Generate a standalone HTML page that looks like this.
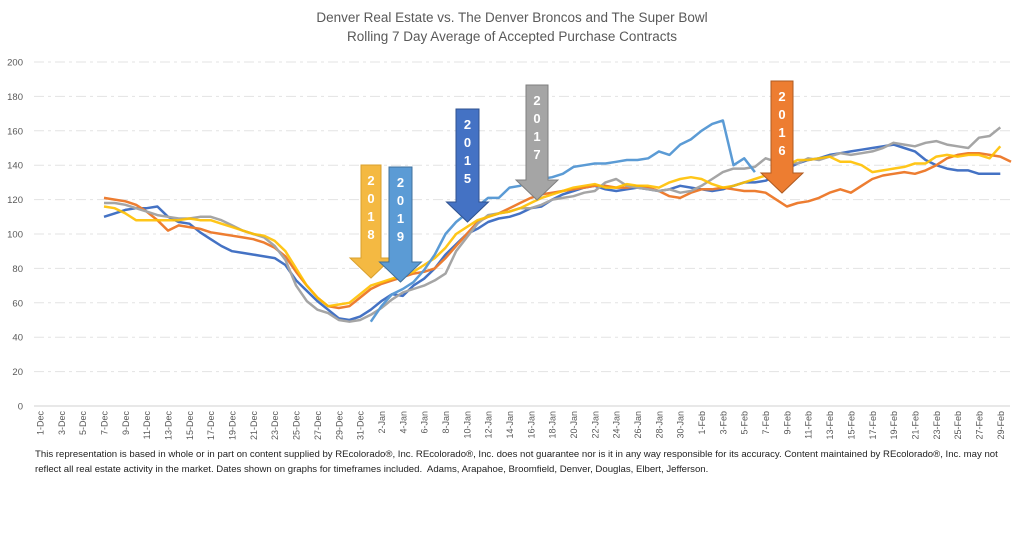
<!DOCTYPE html>
<html><head><meta charset="utf-8"><style>
html,body{margin:0;padding:0;background:#fff;width:1024px;height:534px;overflow:hidden}
svg{display:block;font-family:"Liberation Sans",sans-serif}
.foot{position:absolute;left:35px;top:447px;font:9.6px "Liberation Sans",sans-serif;color:#222;line-height:15px;width:990px}
</style></head><body>
<svg id="chart" width="1024" height="534"></svg>
<div class="foot">This representation is based in whole or in part on content supplied by REcolorado®, Inc. REcolorado®, Inc. does not guarantee nor is it in any way responsible for its accuracy. Content maintained by REcolorado®, Inc. may not<br>reflect all real estate activity in the market. Dates shown on graphs for timeframes included.&nbsp; Adams, Arapahoe, Broomfield, Denver, Douglas, Elbert, Jefferson.</div>
<script>
const yTicks=[0,20,40,60,80,100,120,140,160,180,200];
const N=null;
const pre=[N,N,N,N,N,N];
const s2015=pre.concat([110,112,114,115,115,116,110,107,106,101,97,93,90,89,88,87,86,82,73,67,61,56,51,50,52,56,61,65,64,70,74,80,88,94,100,103,107,109,110,112,115,116,120,123,125,127,128,126,125,126,127,126,125,126,128,127,126,125,126,128,130,130,131,134,138,141,143,144,146,147,148,149,150,151,152,150,148,143,140,138,137,137,135,135,135]);
const s2016=pre.concat([121,120,119,117,113,108,102,105,104,103,101,100,99,98,97,95,92,87,78,70,63,58,57,58,63,68,71,73,75,77,78,80,86,93,100,107,110,112,115,118,121,123,124,125,126,127,128,128,127,127,128,127,125,122,121,124,126,126,127,126,125,125,124,120,116,118,119,121,124,126,124,128,132,134,135,136,135,137,140,144,146,147,147,146,145,142]);
const s2017=pre.concat([118,118,117,115,113,111,110,109,109,110,110,108,105,102,100,98,93,85,70,61,56,54,50,49,50,53,57,62,66,68,70,73,77,90,98,106,111,112,113,115,115,117,120,121,122,124,125,130,132,128,127,126,125,126,124,125,128,132,136,138,138,139,144,142,142,141,144,143,145,147,146,147,148,150,153,152,151,153,154,152,151,150,156,157,162]);
const s2018=pre.concat([116,115,112,108,108,108,108,108,109,108,108,106,104,102,100,99,96,90,80,70,63,58,59,60,65,70,72,74,76,78,82,86,92,100,104,108,110,112,113,115,118,121,123,125,127,128,129,127,127,129,128,128,127,130,132,133,132,129,127,128,130,132,134,136,140,143,143,144,145,142,142,140,136,137,138,139,141,141,145,146,145,146,146,144,151]);
const s2019=new Array(31).fill(N).concat([49,58,65,68,72,79,88,100,107,112,116,121,121,127,128,131,132,133,135,139,140,141,141,142,143,143,144,148,146,152,155,160,164,166,140,144,136]);
const months=[["Dec",31],["Jan",31],["Feb",29]];
const cats=[];months.forEach(([m,n])=>{for(let d=1;d<=n;d++)cats.push(d+"-"+m)});
const svg=document.getElementById('chart');const NS="http://www.w3.org/2000/svg";
function mk(t,a,p){const e=document.createElementNS(NS,t);for(const k in a)e.setAttribute(k,a[k]);(p||svg).appendChild(e);return e}
const X=i=>40+i*10.67;const Y=v=>406-v*1.72;
let t=mk('text',{x:512,y:22,'text-anchor':'middle','font-size':13.5,fill:'#595959'});t.textContent="Denver Real Estate vs. The Denver Broncos and The Super Bowl";


t=mk('text',{x:512,y:41,'text-anchor':'middle','font-size':13.5,fill:'#595959'});t.textContent="Rolling 7 Day Average of Accepted Purchase Contracts";


yTicks.forEach(v=>{
 const g=mk('line',{x1:34,x2:1010,y1:Y(v),y2:Y(v),stroke:v?'#e3e3e3':'#d0d0d0','stroke-width':1,'stroke-dasharray':v?'10,4,3,4':''});
 
 
 const l=mk('text',{x:23,y:Y(v)+3.5,'text-anchor':'end','font-size':9.5,fill:'#595959'});l.textContent=v;
 
 
});
cats.forEach((c,i)=>{if(i%2)return;
 const l=mk('text',{transform:`translate(${X(i)+3.5},411) rotate(-90)`,'text-anchor':'end','font-size':9,fill:'#595959'});l.textContent=c;
 
 
});
const series=[["2015",s2015,"#4472c4"],["2016",s2016,"#ed7d31"],["2017",s2017,"#a5a5a5"],["2018",s2018,"#ffc000"],["2019",s2019,"#5b9bd5"]];
series.forEach(([n,d,c])=>{let p="";d.forEach((v,i)=>{if(v==null)return;p+=(p?"L":"M")+X(i).toFixed(1)+","+Y(v).toFixed(1)});
 const e=mk('path',{d:p,fill:'none',stroke:c,'stroke-width':2.5,'stroke-linejoin':'round',opacity:n==="2018"?0.9:1});
 
 
});
// annotation arrows: [label, body left, body right, top, tip, fill, stroke]
const arrows=[["2018",361,381,165,278,"#f4b942","#d9a02e"],["2019",389,412,167,282,"#5b9bd5","#41719c"],["2015",456,479,109,222,"#4472c4","#2f528f"],["2017",526,548,85,200,"#a5a5a5","#7f7f7f"],["2016",771,793,81,193,"#ed7d31","#ae5a21"]];
arrows.forEach(([lab,l,r,top,tip,f,s])=>{
 const g=mk('g',{});
 
 
 const cx=(l+r)/2,hw=21,hs=tip-20;
 mk('path',{d:`M${l},${top}L${r},${top}L${r},${hs}L${cx+hw},${hs}L${cx},${tip}L${cx-hw},${hs}L${l},${hs}Z`,fill:f,stroke:s,'stroke-width':1},g);
 lab.split("").forEach((ch,k)=>{const tx=mk('text',{x:cx,y:top+20+k*18,'text-anchor':'middle','font-size':13,'font-weight':'bold',fill:'#fff'},g);tx.textContent=ch;});
});
</script>
</body></html>
